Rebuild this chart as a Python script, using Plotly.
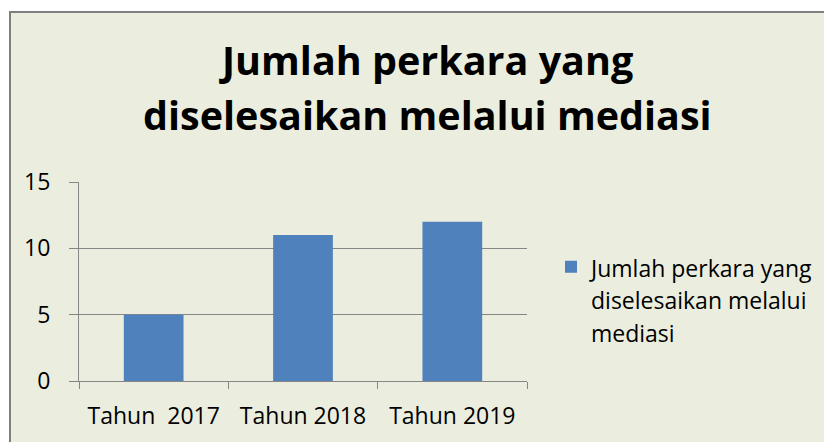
import plotly.graph_objects as go

categories = ["Tahun  2017", "Tahun 2018", "Tahun 2019"]
values = [5, 11, 12]
series_lines = ["Jumlah perkara yang", "diselesaikan melalui", "mediasi"]
title_lines = ["Jumlah perkara yang", "diselesaikan melalui mediasi"]

# page body has an 8px margin, so the figure sits at (8, 8) in the window
OFF = 8
W, H = 832 - OFF, 442 - OFF
# plot area in window pixels: x 79..527, y 182..381
L = 79 - OFF
T = 182 - OFF
R = W - (527 - OFF)
B = H - (381 - OFF)
pw = W - L - R
ph = H - T - B

def xp(px):  # window px -> paper fraction
    return (px - OFF - L) / pw

def yp(py):
    return (H - B - (py - OFF)) / ph

BG = "#EBEEDF"
GRID = "#868686"
FONT = "Open Sans"

series_name = "<br>".join(f'<span style="font-size:23px">{s}</span>' for s in series_lines)

fig = go.Figure()
fig.add_trace(go.Bar(
    x=categories, y=values, name=series_name,
    marker=dict(color="#4F81BD", line=dict(width=0)),
    showlegend=True,
))

shapes = [
    dict(type="rect", xref="paper", yref="paper", x0=xp(10), x1=xp(900),
         y0=yp(520), y1=yp(12), fillcolor=BG, line=dict(color="#7F7F7F", width=2),
         layer="below"),
]

annotations = [
    dict(text=f"<b>{title_lines[0]}</b>", xref="paper", yref="paper", x=xp(426), y=yp(60),
         xanchor="center", yanchor="middle", showarrow=False,
         font=dict(family=FONT, size=39.5, color="#000000")),
    dict(text=f"<b>{title_lines[1]}</b>", xref="paper", yref="paper", x=xp(427), y=yp(115),
         xanchor="center", yanchor="middle", showarrow=False,
         font=dict(family=FONT, size=39.5, color="#000000")),
]

fig.update_layout(
    width=W, height=H,
    margin=dict(l=L, r=R, t=T, b=B, pad=0),
    paper_bgcolor="white",
    plot_bgcolor="white",
    shapes=shapes,
    annotations=annotations,
    bargap=0.6,
    font=dict(family=FONT, size=22, color="#000000"),
    showlegend=True,
    legend=dict(
        x=xp(551), y=yp(244), xanchor="left", yanchor="top",
        bgcolor="rgba(0,0,0,0)", valign="top",
        font=dict(family=FONT, size=25, color="#000000"),
    ),
    xaxis=dict(
        showline=True, linecolor=GRID, linewidth=1,
        ticks="outside", tickson="boundaries", ticklen=7, tickcolor=GRID,
        showgrid=False, tickfont=dict(size=23), ticklabelstandoff=14,
    ),
    yaxis=dict(
        range=[0, 15], dtick=5, tick0=0,
        showline=True, linecolor=GRID, linewidth=1,
        ticks="outside", ticklen=9, tickcolor=GRID,
        showgrid=True, gridcolor=GRID, gridwidth=1,
        zeroline=False, tickfont=dict(size=23), ticklabelstandoff=14,
    ),
)

fig.write_html("out.html")
